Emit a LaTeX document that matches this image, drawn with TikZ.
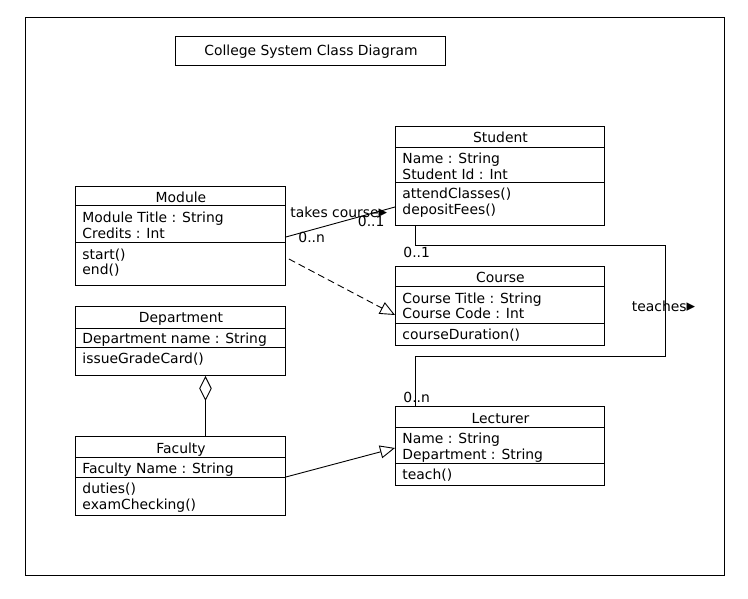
\documentclass[tikz,border=0pt]{standalone}
\usepackage{fontspec}
\setmainfont{DejaVu Sans}
\usetikzlibrary{arrows.meta,calc}
\newcommand{\rtri}{{\fontsize{17}{17}\selectfont ▸}}
\begin{document}
\begin{tikzpicture}[x=1pt,y=-1pt,line width=0.9pt,
  font=\fontsize{13.9}{16}\selectfont,
  classbox/.style={draw,inner sep=0pt,anchor=north west},
  txt/.style={anchor=base west,inner sep=0pt},
  ctxt/.style={anchor=base,inner sep=0pt},
  assoc/.style={draw},
  realize/.style={dash pattern=on 7pt off 4pt,-{Triangle[open,length=15pt,width=13pt]}},
  general/.style={-{Triangle[open,length=15pt,width=13pt]}},
  aggr/.style={{Diamond[open,length=25pt,width=12.5pt]}-}]
\useasboundingbox (0,0) rectangle (748,599);
% outer frame
\node[classbox,minimum width=699pt,minimum height=558pt] (frame) at (25,17) {};
% title
\node[classbox,minimum width=270pt,minimum height=29pt] (titlebox) at (175,36) {};
\node[ctxt] (titletext) at (311,55.5) {College System Class Diagram};

% Student
\node[classbox,minimum width=209pt,minimum height=99pt] (student) at (395,126) {};
\draw (395,147) -- (604,147);
\draw (395,182) -- (604,182);
\node[ctxt] (studentT) at (500.5,143) {Student};
\node[txt] (studentA1) at (402,164) {Name : String};
\node[txt] (studentA2) at (402,180) {Student Id : Int};
\node[txt] (studentM1) at (402,199) {attendClasses()};
\node[txt] (studentM2) at (402,215) {depositFees()};

% Module
\node[classbox,minimum width=210pt,minimum height=99pt] (module) at (75,186) {};
\draw (75,205) -- (285,205);
\draw (75,242) -- (285,242);
\node[ctxt] (moduleT) at (181,203) {Module};
\node[txt] (moduleA1) at (82,223) {Module Title : String};
\node[txt] (moduleA2) at (82,239) {Credits : Int};
\node[txt] (moduleM1) at (82,259) {start()};
\node[txt] (moduleM2) at (82,275) {end()};

% Course
\node[classbox,minimum width=209pt,minimum height=79pt] (course) at (395,266) {};
\draw (395,286) -- (604,286);
\draw (395,323) -- (604,323);
\node[ctxt] (courseT) at (500.5,283) {Course};
\node[txt] (courseA1) at (402,303) {Course Title : String};
\node[txt] (courseA2) at (402,319) {Course Code : Int};
\node[txt] (courseM1) at (402,339) {courseDuration()};

% Department
\node[classbox,minimum width=210pt,minimum height=69pt] (department) at (75,306) {};
\draw (75,328) -- (285,328);
\draw (75,347) -- (285,347);
\node[ctxt] (departmentT) at (181,322) {Department};
\node[txt] (departmentA1) at (82,343) {Department name : String};
\node[txt] (departmentM1) at (82,363) {issueGradeCard()};

% Faculty
\node[classbox,minimum width=210pt,minimum height=79pt] (faculty) at (75,436) {};
\draw (75,457) -- (285,457);
\draw (75,477) -- (285,477);
\node[ctxt] (facultyT) at (181,453) {Faculty};
\node[txt] (facultyA1) at (82,473) {Faculty Name : String};
\node[txt] (facultyM1) at (82,493) {duties()};
\node[txt] (facultyM2) at (82,509) {examChecking()};

% Lecturer
\node[classbox,minimum width=209pt,minimum height=79pt] (lecturer) at (395,406) {};
\draw (395,427) -- (604,427);
\draw (395,463) -- (604,463);
\node[ctxt] (lecturerT) at (500.5,423) {Lecturer};
\node[txt] (lecturerA1) at (402,443) {Name : String};
\node[txt] (lecturerA2) at (402,459) {Department : String};
\node[txt] (lecturerM1) at (402,479) {teach()};

% connectors
\draw[assoc] ($(module.north east)+(0,51)$) -- ($(student.north west)+(0,81)$);
\draw[realize] ($(module.north east)+(3,73)$) -- ($(course.north west)+(0,49)$);
\draw[general] ($(faculty.north east)+(0,41)$) -- ($(lecturer.north west)+(0,42)$);
\draw ($(student.south west)+(20,0)$) -- ++(0,20) -- ++(250,0) -- ++(0,111) -- ++(-250,0) -- ($(lecturer.north west)+(20,0)$);
\draw[aggr] ($(department.south)+(25,0)$) -- ($(faculty.north)+(25,0)$);

% labels
\node[txt] (lblTakes) at (290,217.5) {takes course\rtri};
\node[txt] (lblS1) at (357.5,226.5) {0..1};
\node[txt] (lblMn) at (298,242.5) {0..n};
\node[txt] (lblC1) at (403,258) {0..1};
\node[txt] (lblLn) at (403,402.5) {0..n};
\node[txt] (lblTeach) at (631.5,311.5) {teaches\rtri};
\end{tikzpicture}
\end{document}
